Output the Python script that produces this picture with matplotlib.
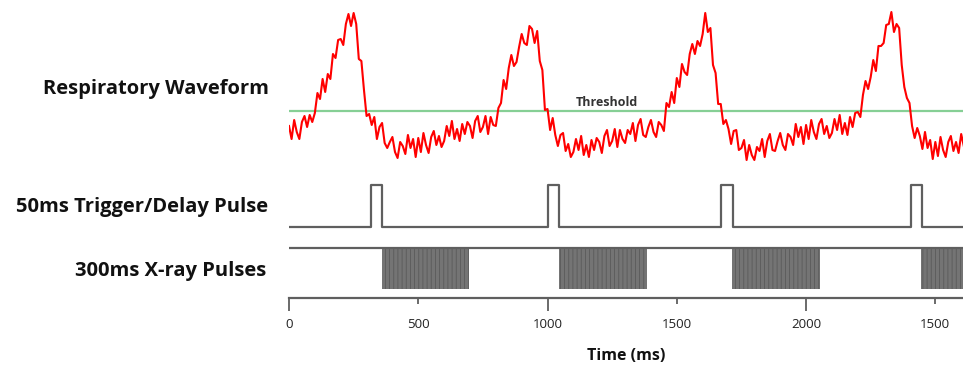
import matplotlib.pyplot as plt
import numpy as np

# respiratory signal, one sample every 10 ms (arbitrary units)
sample_ms = 10
resp = [
    44, 31, 50, 38, 31, 48, 54, 43, 55, 48,
    57, 77, 71, 91, 78, 96, 91, 116, 112, 130,
    131, 125, 146, 156, 144, 157, 146, 111, 109, 80,
    54, 56, 45, 53, 31, 43, 47, 27, 22, 28,
    33, 18, 12, 28, 24, 16, 35, 22, 31, 13,
    32, 18, 37, 25, 17, 33, 39, 25, 34, 23,
    29, 44, 34, 49, 31, 41, 29, 46, 36, 48,
    44, 32, 49, 54, 38, 43, 54, 36, 53, 45,
    44, 62, 67, 90, 81, 102, 115, 104, 108, 123,
    136, 127, 125, 144, 141, 127, 139, 109, 100, 60,
    61, 40, 52, 35, 24, 35, 37, 19, 26, 13,
    18, 31, 20, 34, 15, 25, 13, 30, 20, 32,
    28, 17, 34, 40, 24, 29, 41, 23, 40, 31,
    27, 40, 36, 47, 29, 45, 51, 35, 33, 43,
    50, 38, 33, 48, 45, 39, 67, 63, 78, 67,
    92, 83, 106, 98, 95, 116, 126, 116, 129, 124,
    136, 157, 138, 142, 105, 97, 66, 66, 46, 50,
    41, 26, 39, 40, 20, 22, 30, 10, 25, 15,
    10, 23, 19, 31, 13, 29, 36, 20, 19, 29,
    37, 25, 20, 36, 33, 25, 46, 33, 43, 26,
    45, 31, 50, 38, 31, 46, 51, 36, 44, 32,
    37, 51, 40, 55, 36, 47, 35, 53, 43, 57,
    58, 53, 75, 89, 81, 93, 110, 99, 124, 124,
    127, 145, 146, 158, 138, 146, 142, 105, 83, 72,
    67, 44, 32, 42, 34, 21, 38, 22, 30, 11,
    28, 14, 33, 20, 13, 28, 34, 19, 28, 17,
    36, 24,
]
threshold = 59
threshold_label_ms = 1230

# trigger / delay pulses (ms)
trigger_starts = [316, 1000, 1671, 2404]
trigger_width = 45

# x-ray exposure windows (ms)
xray_starts = [358, 1045, 1715, 2446]
xray_width = 338

tick_pos = [0, 500, 1000, 1500, 2000, 2500]
tick_labels = ['0', '500', '1000', '1500', '2000', '1500']

x_max = 2607
gray = '#5f5f5f'
font = 'Open Sans'

fig = plt.figure(figsize=(9.63, 3.65), dpi=100)
left = 289 / 963
width = 1 - left

# --- respiratory waveform ---
ax1 = fig.add_axes([left, 1 - 172 / 365, width, 167 / 365])
t = np.arange(len(resp)) * sample_ms
ax1.axhline(threshold, color='#86cf95', lw=1.6, zorder=1)
ax1.plot(t, resp, color='#ff0000', lw=1.5, zorder=2)
ax1.text(threshold_label_ms, threshold + 1.5, 'Threshold', ha='center', va='bottom',
         fontsize=9, fontweight='bold', color='#333333', family=font)
ax1.set_xlim(0, x_max)
ax1.set_ylim(-2, 165)
ax1.axis('off')

# --- trigger pulses ---
ax2 = fig.add_axes([left, 1 - 235 / 365, width, 55 / 365])
tx, ty = [0], [0]
for s in trigger_starts:
    tx += [s, s, s + trigger_width, s + trigger_width]
    ty += [0, 1, 1, 0]
tx.append(x_max)
ty.append(0)
ax2.plot(tx, ty, color=gray, lw=1.6, solid_joinstyle='round')
ax2.set_xlim(0, x_max)
ax2.set_ylim(-0.19, 1.12)
ax2.axis('off')

# --- x-ray pulses ---
ax3 = fig.add_axes([left, 1 - 298 / 365, width, 58 / 365])
ax3.axhline(1, color=gray, lw=1.6)
plt.rcParams['hatch.linewidth'] = 0.6
ax3.bar(xray_starts, 1, width=xray_width, bottom=0, align='edge',
        color='#747474', edgecolor='#5a5a5a', hatch='||||', linewidth=0)
ax3.set_xlim(0, x_max)
ax3.set_ylim(-0.22, 1.195)
for sp in ['top', 'right', 'left']:
    ax3.spines[sp].set_visible(False)
ax3.spines['bottom'].set_color(gray)
ax3.spines['bottom'].set_linewidth(1.6)
ax3.set_yticks([])
ax3.set_xticks(tick_pos[::2], tick_labels[::2])
ax3.set_xticks(tick_pos[1::2], tick_labels[1::2], minor=True)
ax3.tick_params(axis='x', which='major', length=9.5, width=1.3, color=gray,
                pad=5, labelsize=9.5, labelcolor='#222222')
ax3.tick_params(axis='x', which='minor', length=4.5, width=1.3, color=gray,
                pad=10, labelsize=9.5, labelcolor='#222222')
for lab in ax3.get_xticklabels(which='both'):
    lab.set_family(font)
ax3.set_xlabel('Time (ms)', fontsize=11.5, fontweight='bold', family=font,
               labelpad=12, color='#111111')

# --- row labels ---
row_font = dict(fontsize=14.5, fontweight='bold', family=font, color='#111111',
                ha='right', va='center')
fig.text(269 / 963, 1 - 89 / 365, 'Respiratory Waveform', **row_font)
fig.text(268 / 963, 1 - 207 / 365, '50ms Trigger/Delay Pulse', **row_font)
fig.text(266 / 963, 1 - 271 / 365, '300ms X-ray Pulses', **row_font)

fig.savefig('out.png', dpi=100)
